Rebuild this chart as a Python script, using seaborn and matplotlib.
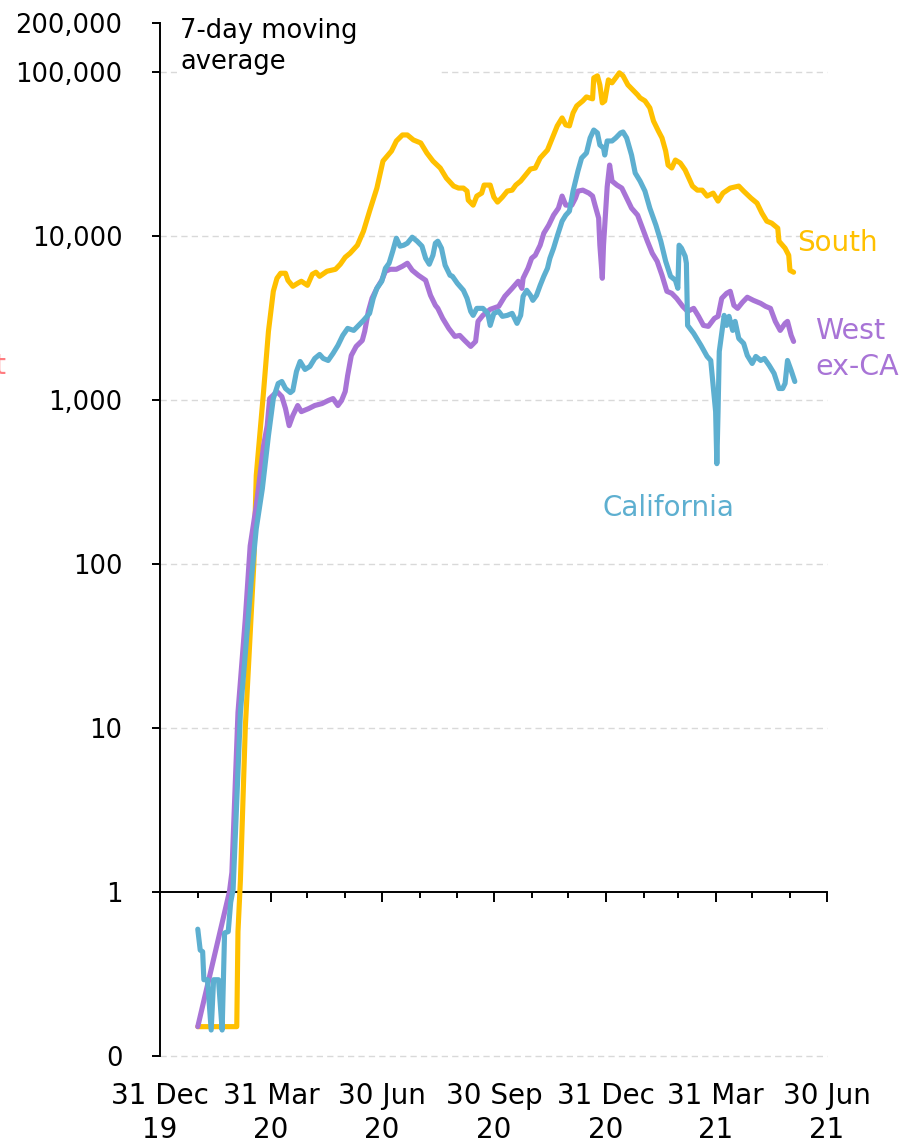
import numpy as np
import pandas as pd
import matplotlib
matplotlib.use("Agg")
import matplotlib.pyplot as plt
import matplotlib.dates as mdates
import matplotlib.ticker as mticker
from matplotlib.patches import Rectangle
import seaborn as sns

# ---------------- data (days since 31 Dec 2019, 7-day average cases) ----------------
start_date = pd.Timestamp("2019-12-31")

south_days = [31, 63, 64, 66, 70, 77, 79, 85, 89, 93, 96, 99, 103, 105, 109, 113, 116, 121, 125, 128,
              131, 137, 144, 148, 152, 156, 162, 167, 172, 178, 183, 190, 194, 199, 203, 208, 214, 219,
              224, 230, 235, 241, 245, 249, 252, 253, 257, 260, 264, 266, 271, 274, 277, 281, 285, 289,
              292, 296, 300, 304, 308, 312, 318, 322, 326, 330, 333, 336, 339, 342, 347, 350, 355, 356,
              359, 361, 363, 365, 368, 371, 374, 377, 380, 384, 388, 392, 394, 398, 402, 405, 409, 412,
              415, 417, 420, 423, 427, 431, 434, 437, 441, 445, 449, 454, 458, 462, 468, 475, 479, 485,
              490, 494, 498, 502, 507, 508, 513, 516, 517, 520]
south_cases = [0.15, 0.15, 0.57, 1.18, 10, 100, 347, 1127, 2624, 4610, 5535, 5940, 5940, 5380, 4945,
               5160, 5310, 5012, 5857, 6026, 5690, 6109, 6280, 6745, 7440, 7870, 8810, 10730, 14220,
               19660, 28750, 33110, 38110, 41480, 41480, 38650, 37060, 32190, 28750, 26060, 22630,
               20220, 19660, 19660, 18840, 16600, 15470, 17570, 18320, 20510, 20510, 17320, 16140,
               17320, 18840, 19100, 20510, 21700, 23610, 25690, 26060, 29990, 33570, 39760, 47090,
               52690, 47750, 47090, 56510, 62370, 66950, 70800, 68870, 92500, 95200, 83840, 65110,
               66950, 89950, 86290, 92500, 99300, 95200, 83840, 78160, 72850, 69840, 66950, 60670,
               50480, 43860, 39760, 33110, 27170, 26060, 29160, 27960, 25330, 22630, 20220, 19100,
               19100, 17570, 18320, 16370, 18320, 19660, 20220, 18840, 17080, 15910, 13830, 12350,
               12010, 11190, 9320, 8447, 7650, 6194, 6026]

california_days = [31, 33, 35, 36, 39, 42, 44, 48, 51, 53, 56, 58, 60, 66, 71, 75, 79, 84, 89, 93, 97,
                   100, 103, 107, 109, 112, 115, 119, 123, 127, 131, 134, 138, 142, 146, 150, 154, 159,
                   163, 167, 172, 175, 178, 182, 185, 188, 191, 194, 197, 200, 203, 207, 211, 215, 218,
                   221, 224, 226, 228, 231, 234, 238, 240, 244, 249, 252, 255, 257, 260, 265, 269, 271,
                   274, 278, 281, 285, 289, 293, 296, 298, 301, 304, 306, 309, 312, 315, 318, 320, 323,
                   326, 330, 333, 336, 339, 343, 346, 350, 353, 356, 359, 361, 364, 365, 367, 371, 374,
                   378, 380, 383, 387, 390, 394, 398, 402, 407, 411, 415, 419, 423, 425, 426, 428, 431,
                   432, 433, 438, 444, 449, 452, 454, 456, 457, 458, 459, 463, 465, 467, 470, 472, 475,
                   479, 482, 486, 489, 493, 496, 500, 504, 508, 511, 513, 515, 518, 521]
california_cases = [0.59, 0.44, 0.43, 0.29, 0.29, 0.143, 0.29, 0.29, 0.143, 0.56, 0.57, 0.86, 1.03,
                    12.4, 34.8, 81, 164, 288, 607, 1021, 1262, 1298, 1176, 1111, 1143, 1494, 1720,
                    1537, 1603, 1794, 1898, 1794, 1744, 1925, 2154, 2480, 2737, 2661, 2855, 3063, 3381,
                    4176, 4808, 5306, 6370, 6838, 8095, 9723, 8690, 8810, 9060, 9860, 9320, 8690, 7336,
                    6742, 7650, 9060, 9320, 8447, 6649, 5774, 5694, 5159, 4675, 4176, 3477, 3287, 3627,
                    3627, 3381, 2855, 3381, 3477, 3242, 3287, 3381, 2937, 3287, 4296, 4675, 4357, 4060,
                    4357, 5012, 5694, 6370, 7336, 8447, 10000, 12350, 13440, 14220, 18840, 24980, 29990,
                    32190, 39760, 44460, 42660, 36040, 34510, 31290, 38110, 38110, 39760, 42660, 43250,
                    39760, 31290, 24290, 21700, 18840, 14830, 11670, 9320, 7031, 5694, 5382, 4808, 8810,
                    8447, 7545, 6838, 2855, 2551, 2154, 1846, 1744, 1227, 850, 409, 850, 1980, 3287,
                    2855, 3242, 2661, 3020, 2377, 2216, 1871, 1672, 1846, 1744, 1794, 1626, 1453, 1176,
                    1176, 1262, 1744, 1515, 1298]

west_days = [31, 57, 59, 64, 70, 74, 79, 85, 88, 90, 96, 100, 103, 106, 109, 113, 116, 122, 127, 133,
             138, 142, 146, 149, 152, 154, 157, 161, 166, 168, 171, 174, 178, 182, 185, 189, 194, 199,
             203, 207, 212, 218, 222, 226, 228, 232, 237, 242, 246, 250, 255, 259, 261, 265, 271, 278,
             283, 289, 294, 297, 298, 302, 305, 308, 312, 315, 319, 323, 327, 330, 333, 338, 341, 343,
             347, 352, 355, 357, 360, 361, 363, 364, 367, 369, 371, 375, 379, 383, 387, 392, 396, 400,
             404, 408, 412, 416, 420, 424, 429, 433, 438, 442, 446, 450, 455, 458, 461, 465, 468, 471,
             474, 478, 482, 487, 493, 497, 501, 505, 509, 513, 515, 518, 520]
west_cases = [0.15, 1.0, 1.31, 12.4, 46.1, 128.8, 226, 527, 699, 1021, 1127, 1050, 887, 698, 804, 926,
              850, 887, 926, 952, 993, 1021, 926, 993, 1127, 1412, 1871, 2125, 2311, 2624, 3477, 4176,
              4808, 5382, 6109, 6281, 6281, 6554, 6838, 6194, 5774, 5382, 4357, 3784, 3627, 3151, 2737,
              2445, 2480, 2311, 2125, 2279, 3020, 3287, 3577, 3732, 4296, 4808, 5306, 4808, 5535, 6370,
              7336, 7650, 8810, 10430, 11670, 13440, 14830, 17570, 15470, 15470, 17080, 18840, 19100,
              18320, 17570, 15470, 12890, 8810, 5535, 8810, 20000, 27170, 21700, 20510, 19660, 17080,
              14830, 13440, 11190, 9320, 7870, 7031, 5774, 4610, 4480, 4176, 3732, 3477, 3627, 3242,
              2855, 2816, 3151, 3242, 4176, 4480, 4610, 3784, 3627, 3948, 4240, 4060, 3890, 3732, 3627,
              3020, 2661, 2937, 3020, 2480, 2279]

regions = ["South", "West ex-CA", "California"]
colors = {"South": "#FFC000", "West ex-CA": "#A874D6", "California": "#5DAFD0"}

y_ticks = [0.1, 1, 10, 100, 1000, 10000, 100000, 200000]
y_tick_labels = ["0", "1", "10", "100", "1,000", "10,000", "100,000", "200,000"]
grid_levels = [0.1, 10, 100, 1000, 10000, 100000]
x_tick_dates = ["2019-12-31", "2020-03-31", "2020-06-30", "2020-09-30",
                "2020-12-31", "2021-03-31", "2021-06-30"]
x_tick_labels = ["31 Dec\n19", "31 Mar\n20", "30 Jun\n20", "30 Sep\n20",
                 "31 Dec\n20", "31 Mar\n21", "30 Jun\n21"]

# ---------------- build long table ----------------
frames = []
for name, d, v in [("South", south_days, south_cases),
                   ("West ex-CA", west_days, west_cases),
                   ("California", california_days, california_cases)]:
    frames.append(pd.DataFrame({
        "date": start_date + pd.to_timedelta(np.array(d), unit="D"),
        "cases": v,
        "region": name,
    }))
df = pd.concat(frames, ignore_index=True)

# ---------------- style ----------------
sns.set_theme(style="white")
plt.rcParams["font.family"] = ["DejaVu Sans"]
plt.rcParams["text.color"] = "black"
plt.rcParams["xtick.color"] = "black"
plt.rcParams["ytick.color"] = "black"
plt.rcParams["axes.edgecolor"] = "black"

W, H = 900, 1147
fig = plt.figure(figsize=(W / 100, H / 100), dpi=100)
ax_left, ax_right, ax_top, ax_bottom = 160, 826.5, 23, 1055.5
ax = fig.add_axes([ax_left / W, 1 - ax_bottom / H, (ax_right - ax_left) / W, (ax_bottom - ax_top) / H])

def px(x, y):
    return x / W, 1 - y / H

sns.lineplot(data=df, x="date", y="cases", hue="region", hue_order=regions,
             palette=colors, linewidth=3.7, estimator=None, sort=False,
             legend=False, ax=ax, zorder=3)

ax.set_yscale("log")
ax.set_ylim(0.1, 200000)
ax.set_xlim(pd.Timestamp("2019-12-31"), pd.Timestamp("2021-06-30"))

# gridlines
for g in grid_levels:
    ax.axhline(g, color="#D9D9D9", linewidth=1.0, linestyle=(0, (4.5, 3)),
               zorder=0.5, clip_on=False)

# y axis
ax.set_yticks(y_ticks)
ax.set_yticklabels(y_tick_labels)
ax.yaxis.set_minor_locator(mticker.NullLocator())
ax.tick_params(axis="y", which="major", direction="out", length=6, width=1.4,
               pad=21, labelsize=18.5, left=True)

# x axis line at value 1 with month ticks
ax.spines["bottom"].set_position(("data", 1))
ax.spines["top"].set_visible(False)
ax.spines["right"].set_visible(False)
for s in ["left", "bottom"]:
    ax.spines[s].set_linewidth(1.4)
    ax.spines[s].set_color("black")
major_dates = pd.date_range("2019-12-31", "2021-06-30", freq="QE")
minor_dates = pd.date_range("2019-12-31", "2021-06-30", freq="ME")
ax.set_xticks(major_dates)
ax.set_xticks(minor_dates, minor=True)
ax.tick_params(axis="x", which="major", direction="out", length=7, width=1.4,
               labelbottom=False, bottom=True)
ax.tick_params(axis="x", which="minor", direction="out", length=4.5, width=1.4,
               labelbottom=False, bottom=True)
ax.set_xlabel("")
ax.set_ylabel("")

# date labels along the bottom of the plot
sec = ax.secondary_xaxis("bottom")
sec.set_xticks(mdates.date2num(pd.to_datetime(x_tick_dates)))
sec.set_xticklabels(x_tick_labels)
sec.tick_params(axis="x", length=0, pad=19, labelsize=20)
sec.spines["bottom"].set_visible(False)
for lab in sec.get_xticklabels():
    lab.set_linespacing(1.3)

# white panel behind the note
ax.add_patch(Rectangle(px(177, 88), (440 - 177) / W, 80 / H, transform=fig.transFigure,
                       facecolor="white", edgecolor="none", zorder=1, clip_on=False))

# annotations
fig.text(*px(180, 18), "7-day moving\naverage", fontsize=18.5, ha="left", va="top",
         linespacing=1.25)
fig.text(*px(797, 243), "South", fontsize=20, color=colors["South"], ha="left", va="center")
fig.text(*px(815, 331), "West", fontsize=20.5, color=colors["West ex-CA"], ha="left", va="center")
fig.text(*px(815, 367), "ex-CA", fontsize=20.5, color=colors["West ex-CA"], ha="left", va="center")
fig.text(*px(668, 508), "California", fontsize=20, color=colors["California"],
         ha="center", va="center")
fig.text(*px(6, 366), "Northeast", fontsize=20, color="#FF7C80", ha="right", va="center")

fig.savefig("out.png", dpi=100)
